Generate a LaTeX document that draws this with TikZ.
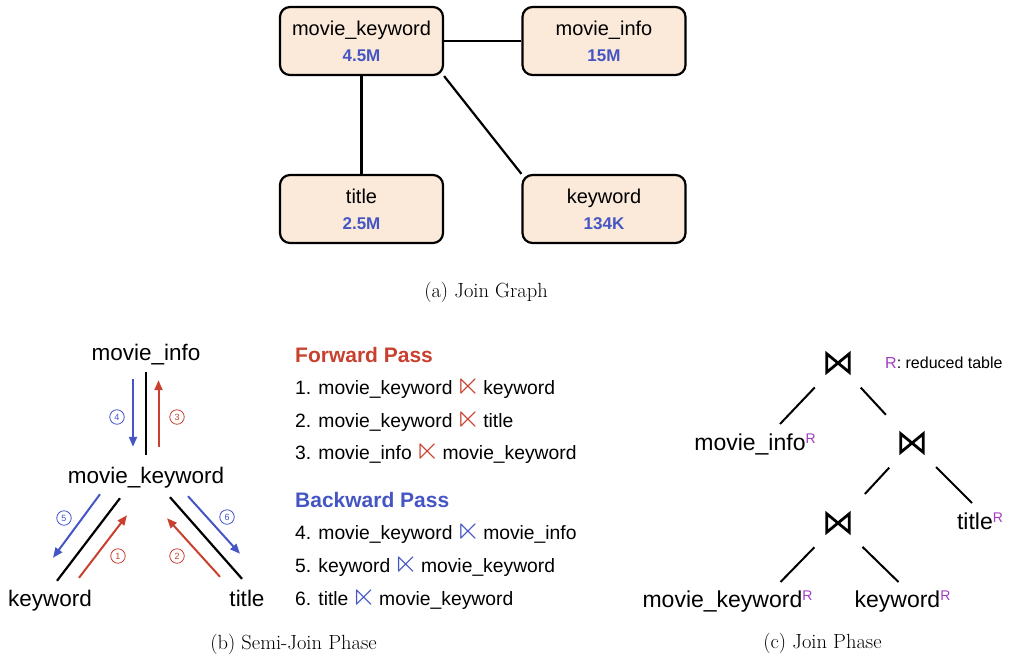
\documentclass[tikz,border=0pt]{standalone}
\usepackage{fontspec}
\usepackage{amssymb}
\usepackage{graphicx}
\setsansfont{Liberation Sans}
\usetikzlibrary{arrows.meta,calc,backgrounds}

\definecolor{fwdred}{HTML}{C8412F}
\definecolor{bwdblue}{HTML}{4556C4}
\definecolor{tabfill}{HTML}{FBEAD9}
\definecolor{redpurple}{HTML}{A03CC2}

\newcommand\semij[1]{\makebox[20pt]{\textcolor{#1}{\smash{\raisebox{-0.3pt}{\scalebox{1.65}{$\ltimes$}}}}}}
\newcommand\redR{\raisebox{7pt}{\fontsize{14}{14}\selectfont\textcolor{redpurple}{R}}}

\begin{document}
\begin{tikzpicture}[x=1pt, y=-1pt,
  tab/.style={draw, line width=2.2, rounded corners=10, fill=tabfill,
    minimum width=163, minimum height=68, align=center,
    font=\sffamily\fontsize{20}{26}\selectfont},
  link/.style={line width=2.2},
  gname/.style={inner sep=0, text height=16pt, text depth=5pt,
    font=\sffamily\fontsize{22.5}{27}\selectfont},
  fwd/.style={fwdred, line width=2, -{Triangle[length=10,width=8]}},
  bwd/.style={bwdblue, line width=2, -{Triangle[length=10,width=8]}},
  stepno/.style={circle, draw, line width=0.8, minimum size=14.5, inner sep=0,
    font=\sffamily\fontsize{9}{9}\selectfont},
  item/.style={anchor=base west, inner sep=0,
    font=\sffamily\fontsize{19.3}{23}\selectfont},
  head/.style={item, font=\sffamily\bfseries\fontsize{21}{25}\selectfont},
  jn/.style={minimum width=22, minimum height=18, inner sep=0},
  tie/.style={line width=2.8, line join=miter},
  leaf/.style={anchor=base, inner sep=0,
    font=\sffamily\fontsize{23}{27}\selectfont},
  branch/.style={line width=2},
  subcap/.style={anchor=base, inner sep=0, font=\fontsize{20.5}{24}\selectfont}]
\useasboundingbox (0,0) rectangle (1019,659);

% join graph
\node[tab] (tmk) at (361.5,41) {movie\_keyword\\{\fontsize{17}{26}\selectfont\bfseries\color{bwdblue}4.5M}};
\node[tab] (tmi) at (604,41) {movie\_info\\{\fontsize{17}{26}\selectfont\bfseries\color{bwdblue}15M}};
\node[tab] (tti) at (361.5,209) {title\\{\fontsize{17}{26}\selectfont\bfseries\color{bwdblue}2.5M}};
\node[tab] (tkw) at (604,209) {keyword\\{\fontsize{17}{26}\selectfont\bfseries\color{bwdblue}134K}};
\begin{scope}[on background layer]
    \draw[link] (tmk) -- (tmi);
    \draw[link] (tmk) -- (tti);
    \draw[link] (tmk.south east) -- (tkw.north west);
\end{scope}
\node[subcap] (capa) at (486,297) {(a) Join Graph};

% semi-join phase
\node[gname, anchor=base] (bmi) at (146,360) {movie\_info};
\node[gname, anchor=base] (bmk) at (146,483) {movie\_keyword};
\node[gname, anchor=base] (bkw) at (50,606) {keyword};
\node[gname, anchor=base] (bti) at (247,606) {title};

\draw[link] ($(bmi.south)+(0,7)$) -- ($(bmk.north)+(0,-12)$);
\draw[bwd] ($(bmi.south)+(-13,14)$) -- ($(bmk.north)+(-13,-20)$);
\draw[fwd] ($(bmk.north)+(12.5,-20)$) -- ($(bmi.south)+(12.5,15)$);

\draw[link] ($(bmk.south)+(-26,10)$) -- ($(bkw.north)+(7,-9)$);
\draw[bwd] ($(bmk.south)+(-46,6)$) -- ($(bkw.north)+(3,-32)$);
\draw[fwd] ($(bkw.north)+(29,-12)$) -- ($(bmk.south)+(-19,27)$);

\draw[link] ($(bmk.south)+(24,9)$) -- ($(bti.north)+(-5,-11)$);
\draw[fwd] ($(bti.north)+(-27,-13)$) -- ($(bmk.south)+(21,30)$);
\draw[bwd] ($(bmk.south)+(42,8)$) -- ($(bti.north)+(-7,-36)$);

\node[stepno, bwdblue] (n4) at (117,417) {4};
\node[stepno, fwdred] (n3) at (177,417) {3};
\node[stepno, bwdblue] (n5) at (64,518) {5};
\node[stepno, fwdred] (n1) at (118,556) {1};
\node[stepno, fwdred] (n2) at (177,556) {2};
\node[stepno, bwdblue] (n6) at (227,517) {6};

\node[head, fwdred] (fwdhead) at (295,362) {Forward Pass};
\node[item] (s1) at (295,394) {1. movie\_keyword \semij{fwdred} keyword};
\node[item] (s2) at (295,427) {2. movie\_keyword \semij{fwdred} title};
\node[item] (s3) at (295,459) {3. movie\_info \semij{fwdred} movie\_keyword};
\node[head, bwdblue] (bwdhead) at (295,507) {Backward Pass};
\node[item] (s4) at (295,539) {4. movie\_keyword \semij{bwdblue} movie\_info};
\node[item] (s5) at (295,572) {5. keyword \semij{bwdblue} movie\_keyword};
\node[item] (s6) at (295,605) {6. title \semij{bwdblue} movie\_keyword};
\node[subcap] (capb) at (293.5,649) {(b) Semi-Join Phase};

% join phase
\node[jn] (j1) at (838,363) {};
\node[jn] (j2) at (912,443) {};
\node[jn] (j3) at (838,523) {};
\foreach \j in {j1,j2,j3}
    \draw[tie] (\j.north west) -- (\j.south east) -- (\j.north east) -- (\j.south west) -- cycle;
\node[anchor=base west, inner sep=0, font=\sffamily\fontsize{16}{19}\selectfont] (note) at (885,368)
    {\textcolor{redpurple}{R}: reduced table};

\node[leaf] (lmi) at (755,450) {movie\_info\redR};
\node[leaf] (lti) at (980,529) {title\redR};
\node[leaf] (lmk) at (727.5,607) {movie\_keyword\redR};
\node[leaf] (lkw) at (902.5,607) {keyword\redR};

\draw[branch, shorten <=21] (j1) -- ($(lmi.base)+(25,-26)$);
\draw[branch, shorten <=21, shorten >=26] (j1) -- (j2);
\draw[branch, shorten <=21, shorten >=27] (j2) -- (j3);
\draw[branch, shorten <=21] (j2) -- ($(lti.base)+(-8,-26)$);
\draw[branch, shorten <=21] (j3) -- ($(lmk.base)+(53,-25)$);
\draw[branch, shorten <=21] (j3) -- ($(lkw.base)+(-4,-25)$);
\node[subcap] (capc) at (822.5,648) {(c) Join Phase};
\end{tikzpicture}
\end{document}
